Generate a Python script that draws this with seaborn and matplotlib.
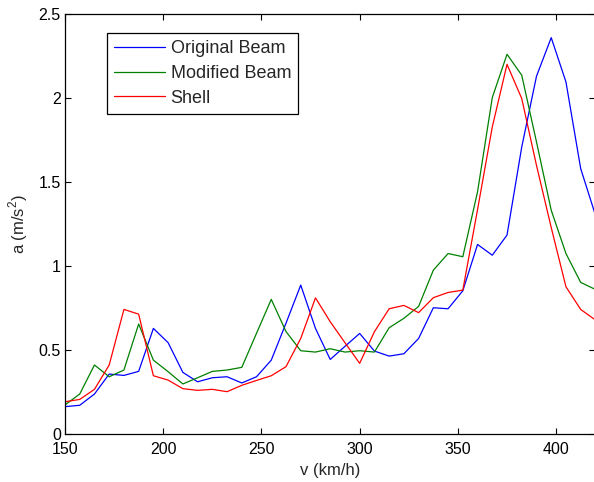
import numpy as np
import pandas as pd
import matplotlib
matplotlib.use("Agg")
import matplotlib.pyplot as plt
import seaborn as sns

# Speed samples (km/h), 7.5 km/h apart
speed = np.arange(150, 420.1, 7.5)

original_beam = [0.163, 0.171, 0.238, 0.357, 0.349, 0.373, 0.629, 0.544, 0.367, 0.311,
                 0.335, 0.341, 0.304, 0.341, 0.440, 0.660, 0.887, 0.629, 0.444, 0.522,
                 0.599, 0.494, 0.464, 0.478, 0.569, 0.752, 0.746, 0.853, 1.129, 1.065,
                 1.185, 1.710, 2.131, 2.361, 2.097, 1.581, 1.304]
modified_beam = [0.173, 0.238, 0.411, 0.341, 0.381, 0.655, 0.440, 0.371, 0.298, 0.335,
                 0.373, 0.381, 0.397, 0.600, 0.802, 0.610, 0.496, 0.488, 0.508, 0.488,
                 0.496, 0.488, 0.633, 0.689, 0.760, 0.976, 1.075, 1.056, 1.443, 2.004,
                 2.262, 2.137, 1.740, 1.333, 1.075, 0.903, 0.861]
shell = [0.192, 0.206, 0.266, 0.411, 0.742, 0.714, 0.347, 0.321, 0.270, 0.260,
         0.266, 0.252, 0.290, 0.319, 0.347, 0.401, 0.569, 0.811, 0.669, 0.544,
         0.421, 0.609, 0.746, 0.766, 0.723, 0.812, 0.843, 0.857, 1.337, 1.829,
         2.202, 1.998, 1.600, 1.230, 0.877, 0.742, 0.679]

series_names = ["Original Beam", "Modified Beam", "Shell"]
series_colors = ["#0000ff", "#008000", "#ff0000"]

x_ticks = [150, 200, 250, 300, 350, 400]
y_ticks = [0, 0.5, 1, 1.5, 2, 2.5]
y_tick_labels = ["0", "0.5", "1", "1.5", "2", "2.5"]

df = pd.concat([
    pd.DataFrame({"v": speed, "a": vals, "model": name})
    for name, vals in zip(series_names, [original_beam, modified_beam, shell])
], ignore_index=True)

sns.set_style("ticks")
plt.rcParams["font.family"] = ["Liberation Sans", "DejaVu Sans"]
plt.rcParams["mathtext.fontset"] = "custom"
plt.rcParams["mathtext.rm"] = "Liberation Sans"

fig = plt.figure(figsize=(5.94, 4.82), dpi=100)
ax = fig.add_axes([0.1094, 0.0996, 0.893, 0.8707])

sns.lineplot(data=df, x="v", y="a", hue="model", hue_order=series_names,
             palette=series_colors, linewidth=0.9, ax=ax, estimator=None,
             sort=False)

ax.set_xlim(150, 420)
ax.set_ylim(0, 2.5)
ax.set_xticks(x_ticks)
ax.set_xticklabels([str(t) for t in x_ticks])
ax.set_yticks(y_ticks)
ax.set_yticklabels(y_tick_labels)
ax.tick_params(direction="in", length=4, width=0.8, labelsize=11.5,
               top=True, right=True, colors="black")
ax.tick_params(axis="x", pad=6)
ax.tick_params(axis="y", pad=3)
for sp in ax.spines.values():
    sp.set_visible(True)
    sp.set_linewidth(0.9)
    sp.set_color("black")

ax.set_xlabel("v (km/h)", fontsize=12, labelpad=4)
ax.set_ylabel(r"a (m/s$^2$)", fontsize=12, labelpad=6)

leg = ax.legend(loc="upper left", bbox_to_anchor=(0.079, 0.955), borderaxespad=0,
                fontsize=13, frameon=True, fancybox=False, edgecolor="black",
                handlelength=2.83, handletextpad=0.3, labelspacing=0.42,
                borderpad=0.4, framealpha=1)
leg.get_frame().set_linewidth(0.9)
for line in leg.get_lines():
    line.set_linewidth(0.9)

fig.savefig("out.png", dpi=100)
